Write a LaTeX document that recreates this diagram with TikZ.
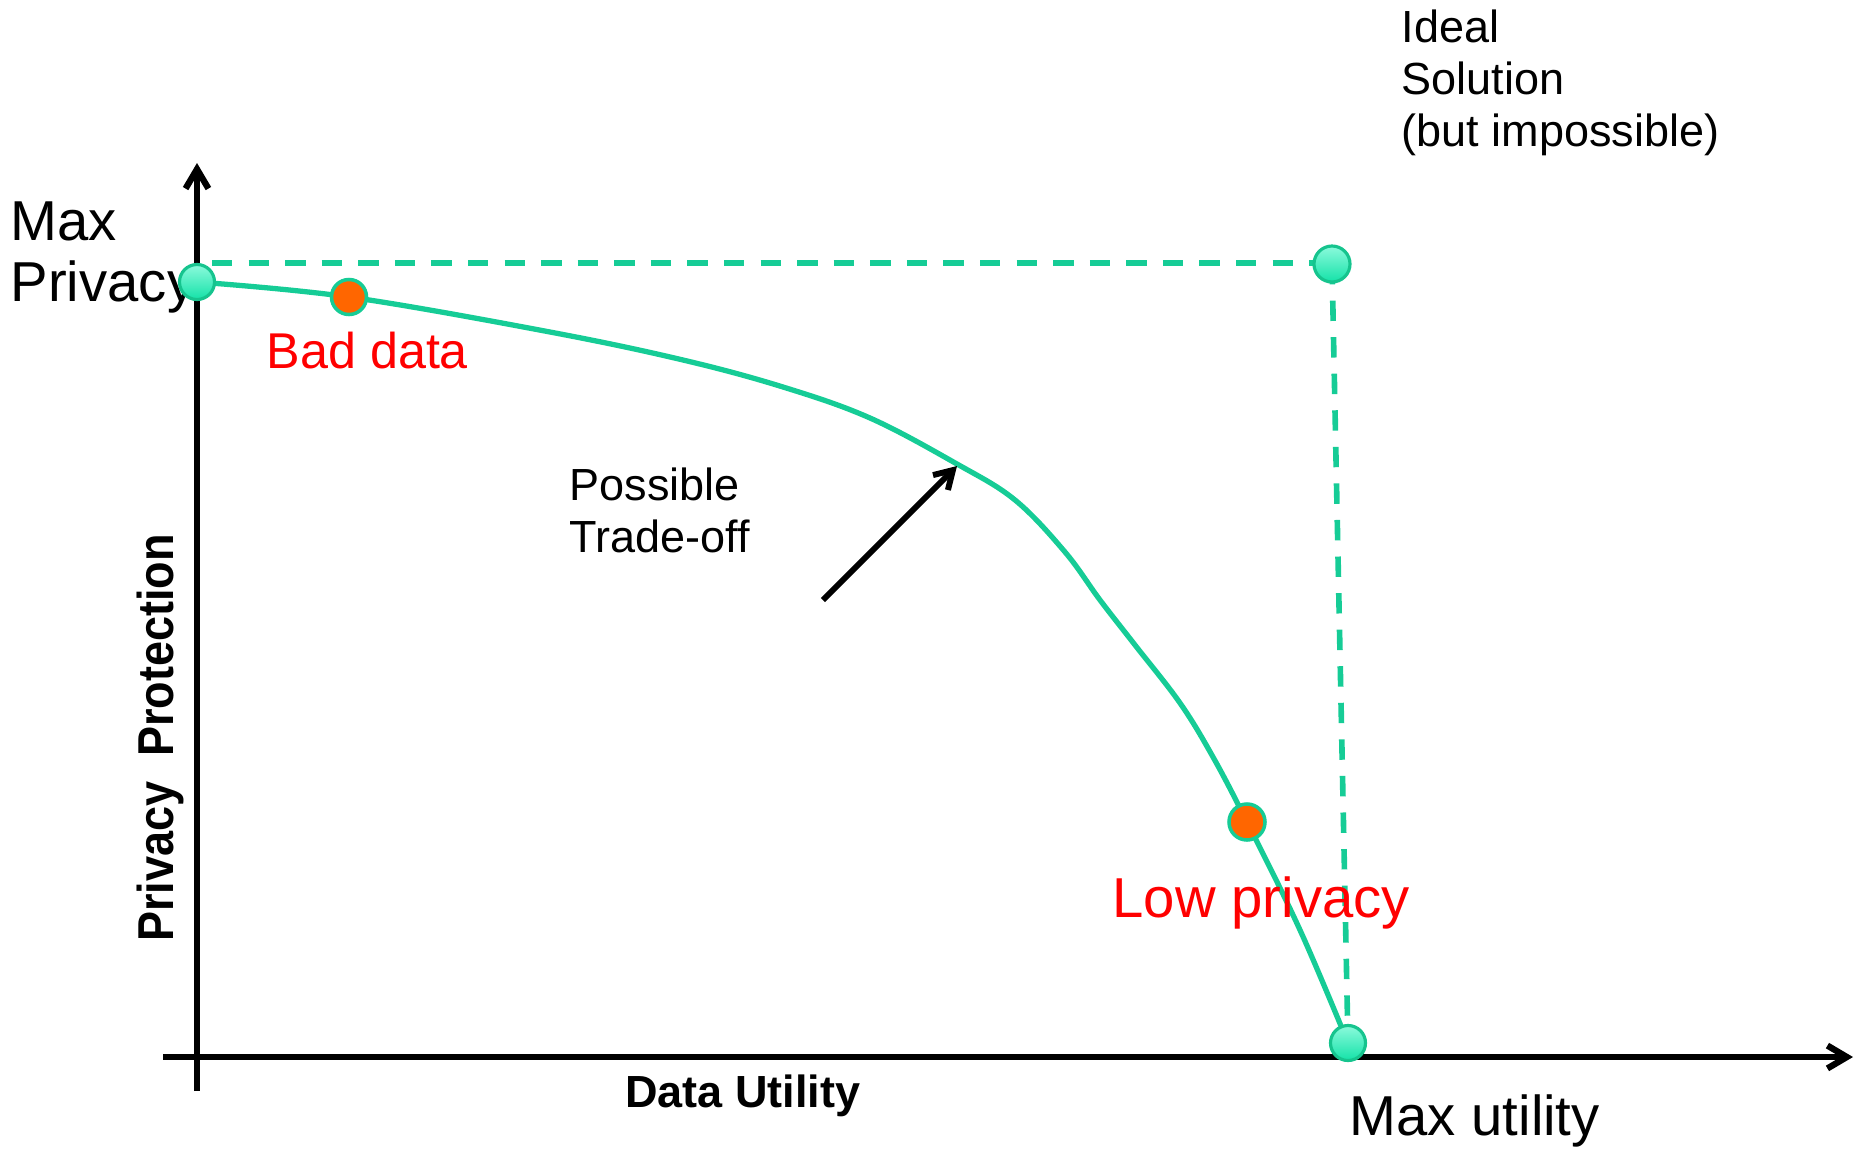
\documentclass[tikz,border=0pt]{standalone}
\usepackage{fontspec}
\setmainfont{Liberation Sans}
\usetikzlibrary{arrows.meta}
\definecolor{tealc}{RGB}{22,204,150}
\definecolor{circtop}{RGB}{140,250,220}
\definecolor{circbot}{RGB}{20,226,168}
\definecolor{circedge}{RGB}{22,196,142}
\definecolor{orangec}{RGB}{255,102,0}
\definecolor{redc}{RGB}{255,0,0}
\begin{document}
\begin{tikzpicture}[x=0.01cm,y=-0.01cm,
  curve/.style={tealc, line width=1.5pt},
  dashline/.style={tealc, line width=1.6pt, dash pattern=on 5.8pt off 4.6pt},
  axisline/.style={line width=1.8pt, -{Straight Barb[length=5.5pt,width=6.5pt]}},
  pointer/.style={line width=1.7pt, -{Straight Barb[length=5pt,width=6pt]}},
  mintdot/.style={circle, minimum size=0.35cm, inner sep=0pt, draw=circedge, line width=0.9pt, top color=circtop, bottom color=circbot},
  orangedot/.style={circle, minimum size=0.35cm, inner sep=0pt, draw=tealc, line width=1pt, fill=orangec},
  lbl/.style={inner sep=0pt, anchor=base west},
  bigtext/.style={font=\fontsize{16}{17}\selectfont},
  midtext/.style={font=\fontsize{14.3}{16}\selectfont},
  smalltext/.style={font=\fontsize{12.8}{14.9}\selectfont},
  boldtext/.style={font=\fontsize{12.8}{14.9}\selectfont\bfseries},
]
\useasboundingbox (0,0) rectangle (1863,1148);

% coordinates
\coordinate (yaxbot) at (197,1091);
\coordinate (yaxtop) at (197,163);
\coordinate (xaxleft) at (163,1057);
\coordinate (xaxright) at (1853,1057);
\coordinate (maxpriv) at (197,282);
\coordinate (baddata) at (349,297);
\coordinate (ideal) at (1332,264);
\coordinate (lowpriv) at (1247,822);
\coordinate (maxutil) at (1348,1043);
\coordinate (dashstart) at (212,263);
\coordinate (ptail) at (823,600);
\coordinate (phead) at (957,466);

% axes
\draw[axisline] (yaxbot) -- (yaxtop);
\draw[axisline] (xaxleft) -- (xaxright);

% dashed ideal frontier
\draw[dashline] (dashstart) -- (ideal |- dashstart) -- (ideal);
\draw[dashline] (ideal) -- (maxutil);

% trade-off curve
\draw[curve] plot[smooth, tension=0.6] coordinates {
  (maxpriv) (baddata) (550,332) (683,360) (783,387) (870,418)
  (957,464) (1015,500) (1065,552) (1100,600) (1135,645)
  (1180,703) (1213,757) (lowpriv) (1300,930) (maxutil)};

% pointer arrow
\draw[pointer] (ptail) -- (phead);

% labels
\node[lbl, bigtext] (maxprivtxt) at (10,240)
  {\begin{tabular}[t]{@{}l@{}}Max\\[0.6pt]Privacy\end{tabular}};
\node[lbl, midtext, text=redc] (badtxt) at (266,368) {Bad data};
\node[lbl, smalltext] (idealtxt) at (1401,42)
  {\begin{tabular}[t]{@{}l@{}}Ideal\\Solution\\(but impossible)\end{tabular}};
\node[lbl, smalltext] (tradetxt) at (569,500)
  {\begin{tabular}[t]{@{}l@{}}Possible\\Trade-off\end{tabular}};
\node[lbl, bigtext, text=redc] (lowtxt) at (1112,917) {Low privacy};
\node[lbl, bigtext] (maxutiltxt) at (1349,1135) {Max utility};
\node[inner sep=0pt, anchor=base, boldtext] (xlabel) at (743,1107) {Data Utility};
\node[inner sep=0pt, anchor=base, boldtext, rotate=90] (ylabel) at (173,738)
  {\scalebox{1}[1.12]{Privacy\ \ Protection}};

% dots
\node[mintdot] (maxprivdot) at (maxpriv) {};
\node[orangedot] (baddot) at (baddata) {};
\node[mintdot, minimum size=0.36cm] (idealdot) at (ideal) {};
\node[orangedot, minimum size=0.36cm] (lowdot) at (lowpriv) {};
\node[mintdot] (maxutildot) at (maxutil) {};
\end{tikzpicture}
\end{document}
